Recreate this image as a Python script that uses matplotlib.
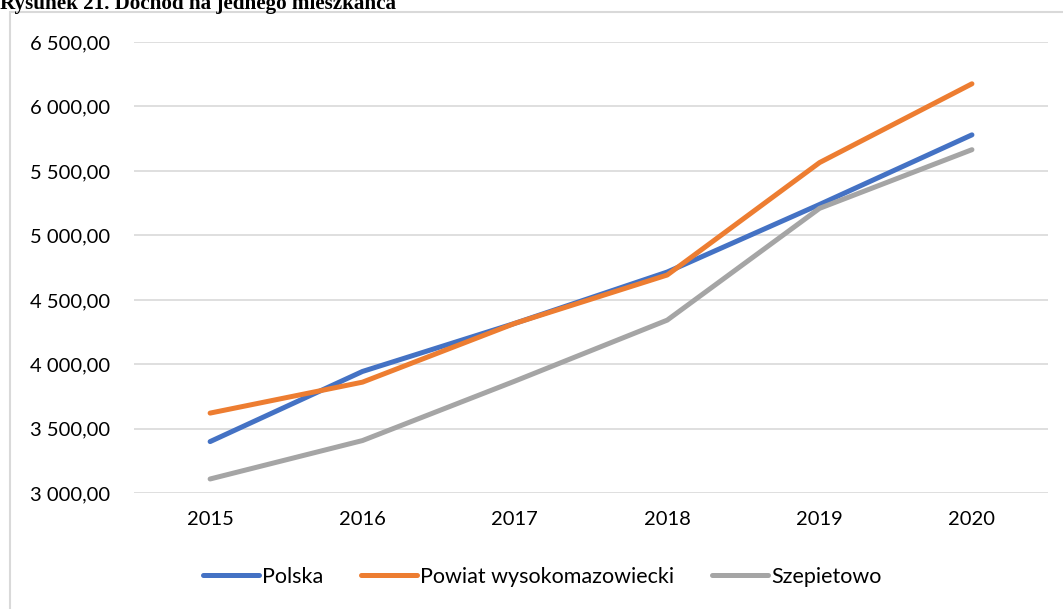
import matplotlib
matplotlib.use("Agg")
import matplotlib.pyplot as plt
from matplotlib.patches import Rectangle
from matplotlib.ticker import FuncFormatter

years = ["2015", "2016", "2017", "2018", "2019", "2020"]
polska = [3401, 3945, 4318, 4716, 5240, 5780]
powiat = [3622, 3862, 4318, 4693, 5565, 6176]
szepietowo = [3111, 3409, 3870, 4343, 5210, 5665]

plt.rcParams['font.family'] = ['Lato', 'DejaVu Sans']

fig = plt.figure(figsize=(10.63, 6.09), dpi=100)
ax = fig.add_axes([0.126, 0.190, 0.860, 0.741])

x = range(len(years))
ax.plot(x, polska, color='#4472C4', lw=3.6, solid_capstyle='round', label='Polska')
ax.plot(x, powiat, color='#ED7D31', lw=3.6, solid_capstyle='round', label='Powiat wysokomazowiecki')
ax.plot(x, szepietowo, color='#A5A5A5', lw=3.6, solid_capstyle='round', label='Szepietowo')

ax.set_xlim(-0.5, len(years) - 0.5)
ax.set_ylim(3000, 6500)
ax.set_yticks(range(3000, 6501, 500))
ax.yaxis.set_major_formatter(FuncFormatter(lambda v, p: f"{v:,.2f}".replace(",", " ").replace(".", ",")))
ax.set_xticks(list(x))
ax.set_xticklabels(years)
ax.grid(axis='y', color='#D9D9D9', lw=1.2)
ax.set_axisbelow(True)
for s in ax.spines.values():
    s.set_visible(False)
ax.tick_params(length=0, labelsize=14.5, colors='#000000')
ax.tick_params(axis='y', pad=17)
ax.tick_params(axis='x', pad=13)

ax.legend(loc='center', bbox_to_anchor=(0.51, 1 - 577 / 609), bbox_transform=fig.transFigure,
          ncol=3, frameon=False, fontsize=15.5, handlelength=2.6, handletextpad=0.15,
          columnspacing=1.75)

fig.patches.append(Rectangle((10 / 1063, -0.1), 1.2, 1.1 - 12 / 609, transform=fig.transFigure,
                             fill=False, edgecolor='#D9D9D9', lw=1.5))

fig.text(0.0, 1 - 9 / 609, "Rysunek 21. Dochód na jednego mieszkańca", family='Liberation Serif',
         fontweight='bold', fontsize=15.2, va='baseline', ha='left')

fig.savefig("out.png", dpi=100)
